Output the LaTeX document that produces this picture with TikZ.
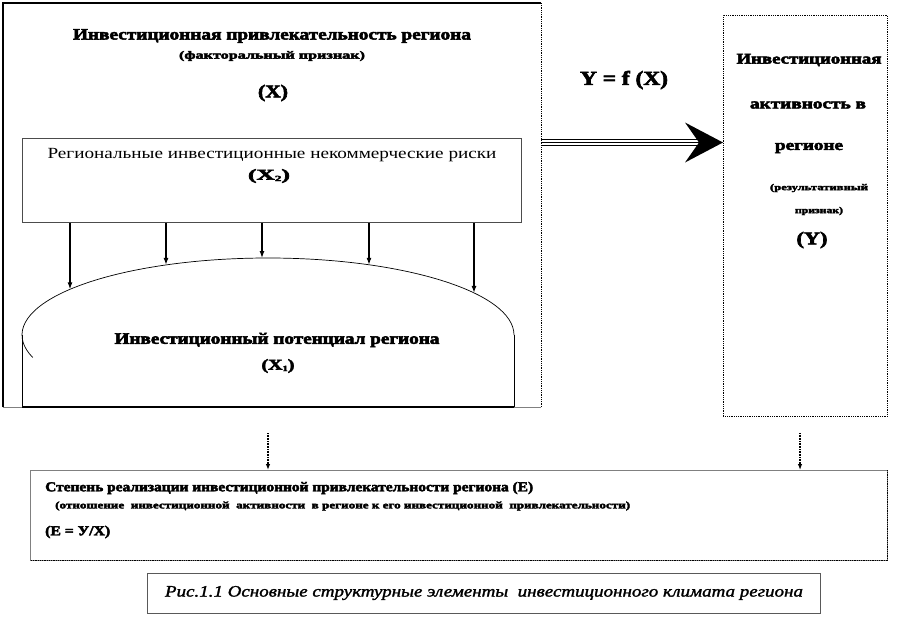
\documentclass[tikz,border=0pt]{standalone}
\usepackage{fontspec}
\setmainfont{Liberation Serif}[BoldFeatures={FakeBold=3},ItalicFeatures={FakeBold=1.5}]
\usepackage{graphicx}
\usetikzlibrary{arrows.meta}
\newlength\fitlen
\newcommand\fitx[2]{\settowidth\fitlen{#2}\scalebox{\fpeval{(#1)/(\the\fitlen)}}[1]{#2}}
\newcommand\sub[1]{\raisebox{-1.5pt}{\fontsize{8}{8}\selectfont #1}}
\newcommand\fs[1]{\fontsize{#1}{#1}\selectfont}
\begin{document}
\begin{tikzpicture}[x=1pt,y=-1pt,
  txt/.style={inner sep=0pt, anchor=center, font=\bfseries},
  ltxt/.style={inner sep=0pt, anchor=west, font=\bfseries},
  frame/.style={inner sep=0pt, anchor=north west},
  arr/.style={-{Latex[length=7pt,width=5pt]}, line width=1.2pt},
  darr/.style={-{Latex[length=6pt,width=4.5pt]}, dash pattern=on 1pt off 0.6pt, line width=1.1pt},
]
\useasboundingbox (0,0) rectangle (899,618);
\fill[white] (0,0) rectangle (899,618);

% outer box
\node[frame, minimum width=538pt, minimum height=404pt] (outer) at (3,3) {};
\draw[line width=1.2pt] (outer.south west) -- (outer.north west) -- (outer.north east);
\draw[densely dotted, line width=0.8pt] (outer.north east) -- (outer.south east);
\draw[gray, line width=0.8pt] (outer.south west) -- (outer.south east);

\node[txt] (t1) at (272,36) {\fs{16}\fitx{398pt}{Инвестиционная привлекательность региона}};
\node[txt] (t2) at (272,56) {\fs{11}\fitx{186pt}{(факторальный признак)}};
\node[txt] (t3) at (273,93) {\fs{18}\fitx{30pt}{(X)}};

% risks box
\node[frame, draw=gray!60!black, line width=0.8pt, minimum width=499pt, minimum height=84pt] (risks) at (22,138) {};
\node[txt, font=\mdseries] (r1) at (272,155) {\fs{15.5}\fitx{449pt}{Региональные инвестиционные некоммерческие риски}};
\node[txt] (r2) at (269,176) {\fs{15}\fitx{42pt}{(X\sub{2})}};

% dome
\coordinate (p1) at (70,289.3);
\coordinate (p2) at (166,264.9);
\coordinate (p3) at (262,258);
\coordinate (p4) at (369,264.8);
\coordinate (p5) at (474,292.9);
\foreach \p in {p1,p2,p3,p4,p5} \draw[arr] (risks.south -| \p) -- (\p);
\draw[line width=0.7pt] (514,335) arc[start angle=0, end angle=197, x radius=246pt, y radius=77pt];
\draw[line width=0.7pt] (22,335) -- (22,407);
\draw[line width=0.7pt] (514,335) -- (514,407);
\draw[line width=1.4pt] (22,407) -- (514,407);
\node[txt] (x1) at (277,340) {\fs{16}\fitx{325pt}{Инвестиционный потенциал региона}};
\node[txt] (x2) at (278,366) {\fs{15}\fitx{33pt}{(X\sub{1})}};

% right box
\node[frame, draw, densely dotted, line width=0.8pt, minimum width=164pt, minimum height=401pt] (activity) at (723,15) {};
\node[txt] (a1) at (809,60) {\fs{15}\fitx{145pt}{Инвестиционная}};
\node[txt] (a2) at (808,105) {\fs{15}\fitx{116pt}{активность в}};
\node[txt] (a3) at (809,148) {\fs{15}\fitx{68pt}{регионе}};
\node[txt] (a4) at (819,188) {\fs{9}\fitx{98pt}{(результативный}};
\node[txt] (a5) at (819,211) {\fs{9}\fitx{48pt}{признак)}};
\node[txt] (a6) at (812,240) {\fs{18}\fitx{31pt}{(Y)}};

% function label
\node[txt] (fx) at (624,80) {\fs{20}\fitx{88pt}{Y = f (X)}};

% big arrow
\coordinate (arrS) at (541,142.5);
\coordinate (arrE) at (activity.west |- arrS);
\draw[line width=1pt] ([yshift=3pt]arrS) -- ([yshift=3pt,xshift=-26pt]arrE);
\draw[line width=0.9pt] (arrS) -- ([xshift=-22pt]arrE);
\draw[line width=1pt] ([yshift=-3pt]arrS) -- ([yshift=-3pt,xshift=-26pt]arrE);
\fill ([xshift=-38pt,yshift=20pt]arrE) -- (arrE) -- ([xshift=-38pt,yshift=-20pt]arrE) -- ([xshift=-24pt]arrE) -- cycle;

% bottom box
\node[frame, draw=gray, line width=0.8pt, minimum width=857pt, minimum height=90pt] (degree) at (30,470) {};
\draw[densely dotted, line width=0.8pt] (degree.north east) -- (degree.south east) -- (degree.south west);
\coordinate (d1) at (268,433);
\coordinate (d2) at (800,433);
\draw[darr] (d1) -- (d1 |- degree.north);
\draw[darr] (d2) -- (d2 |- degree.north);
\node[ltxt] (e1) at (45,488) {\fs{13.5}\fitx{488pt}{Степень реализации инвестиционной привлекательности региона (Е)}};
\node[ltxt] (e2) at (55,506) {\fs{10}\fitx{575pt}{(отношение~~инвестиционной~~активности~~в регионе к его инвестиционной~~привлекательности)}};
\node[ltxt] (e3) at (45,532) {\fs{13.5}\fitx{65pt}{(Е = У/Х)}};

% caption
\node[frame, anchor=center, draw=gray!70!black, line width=0.8pt, minimum width=673pt, minimum height=40pt] (caption) at (483.5,593) {};
\node[inner sep=0pt, font=\itshape] (capt) at (484,593) {\fs{16}\fitx{638pt}{Рис.1.1 Основные структурные элементы~~инвестиционного климата региона}};
\end{tikzpicture}
\end{document}
